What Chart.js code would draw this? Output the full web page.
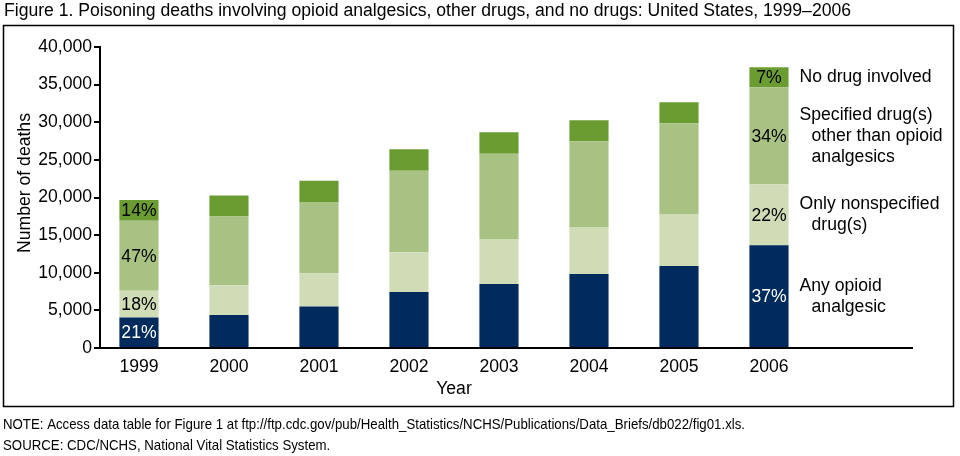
<!DOCTYPE html>
<html>
<head>
<meta charset="utf-8">
<script src="https://cdn.jsdelivr.net/npm/chart.js@4"></script>
<style>
  html, body { margin: 0; padding: 0; background: #fff; }
  canvas { display: block; }
</style>
</head>
<body>
<canvas id="chart" width="960" height="456"></canvas>
<script>
// data (number of deaths)
const years = [1999, 2000, 2001, 2002, 2003, 2004, 2005, 2006];
const opioid = [4050, 4400, 5500, 7450, 8500, 9850, 10900, 13650];
const nonspecified = [3550, 3950, 4430, 5260, 6000, 6220, 6900, 8100];
const specified = [9300, 9120, 9480, 10860, 11300, 11400, 12060, 12900];
const noDrug = [2770, 2790, 2800, 2840, 2860, 2800, 2790, 2650];

// percent labels shown on first and last bar only
const pctOpioid = ["21%", null, null, null, null, null, null, "37%"];
const pctNonspec = ["18%", null, null, null, null, null, null, "22%"];
const pctSpecified = ["47%", null, null, null, null, null, null, "34%"];
const pctNoDrug = ["14%", null, null, null, null, null, null, "7%"];

const seriesNames = [
    ["Any opioid", "  analgesic"],
    ["Only nonspecified", "  drug(s)"],
    ["Specified drug(s)", "  other than opioid", "  analgesics"],
    ["No drug involved"]
];

const yTicks = { min: 0, max: 40000, step: 5000 };

const FONT = "'Liberation Sans', Arial, sans-serif";
const FS = 17.6;

function pts(arr) {
    return arr.map((v, i) => ({ x: years[i], y: v }));
}

const textPlugin = {
    id: "texts",
    afterDatasetsDraw(chart) {
        const ctx = chart.ctx;
        const pcts = [pctOpioid, pctNonspec, pctSpecified, pctNoDrug];
        ctx.save();
        ctx.font = FS + "px " + FONT;
        ctx.textAlign = "center";
        ctx.textBaseline = "middle";
        chart.data.datasets.forEach((ds, di) => {
            const meta = chart.getDatasetMeta(di);
            meta.data.forEach((bar, i) => {
                const t = pcts[di][i];
                if (!t) return;
                ctx.fillStyle = di === 0 ? "#fff" : "#000";
                ctx.fillText(t, bar.x, (bar.y + bar.base) / 2 + 1);
            });
        });
        // labels next to the last bar
        ctx.textAlign = "left";
        ctx.fillStyle = "#000";
        const last = years.length - 1;
        chart.data.datasets.forEach((ds, di) => {
            const bar = chart.getDatasetMeta(di).data[last];
            const lines = seriesNames[di];
            const cy = (bar.y + bar.base) / 2;
            const lh = 21;
            const x0 = bar.x + bar.width / 2 + 11;
            lines.forEach((ln, k) => {
                const y = cy + (k - (lines.length - 1) / 2) * lh;
                const ind = ln.startsWith("  ") ? 12 : 0;
                ctx.fillText(ln.trim(), x0 + ind, y);
            });
        });
        ctx.restore();
    },
    afterDraw(chart) {
        const ctx = chart.ctx;
        ctx.save();
        ctx.fillStyle = "#000";
        ctx.font = FS + "px " + FONT;
        ctx.textBaseline = "middle";
        ctx.textAlign = "left";
        ctx.fillText("Figure 1. Poisoning deaths involving opioid analgesics, other drugs, and no drugs: United States, 1999\u20132006", 4, 11);
        // frame
        ctx.strokeStyle = "#000";
        ctx.lineWidth = 1.5;
        ctx.strokeRect(3.5, 25.5, 950, 381);
        // y title
        ctx.save();
        ctx.translate(25, 183);
        ctx.rotate(-Math.PI / 2);
        ctx.textAlign = "center";
        ctx.fillText("Number of deaths", 0, 0);
        ctx.restore();
        // x title centred under the bars
        const xs = chart.scales.x;
        const cx = (xs.getPixelForValue(years[0]) + xs.getPixelForValue(years[years.length - 1])) / 2;
        ctx.textAlign = "center";
        ctx.fillText("Year", cx, 389);
        // notes, condensed
        ctx.textAlign = "left";
        ctx.font = "14.5px " + FONT;
        const note = "NOTE: Access data table for Figure 1 at ftp://ftp.cdc.gov/pub/Health_Statistics/NCHS/Publications/Data_Briefs/db022/fig01.xls.";
        const sx = Math.min(1, 742 / ctx.measureText(note).width);
        ctx.save();
        ctx.translate(3, 0);
        ctx.scale(sx, 1);
        ctx.fillText(note, 0, 425);
        ctx.fillText("SOURCE: CDC/NCHS, National Vital Statistics System.", 0, 446);
        ctx.restore();
        ctx.restore();
    }
};

new Chart(document.getElementById("chart").getContext("2d"), {
    type: "bar",
    data: {
        datasets: [
            { label: "Any opioid analgesic", data: pts(opioid), backgroundColor: "#002b5c" },
            { label: "Only nonspecified drug(s)", data: pts(nonspecified), backgroundColor: "#cfdcb6" },
            { label: "Specified drug(s) other than opioid analgesics", data: pts(specified), backgroundColor: "#a8c283" },
            { label: "No drug involved", data: pts(noDrug), backgroundColor: "#6b9c32" }
        ]
    },
    options: {
        responsive: false,
        animation: false,
        events: [],
        layout: { padding: { top: 47, right: 48, left: 0, bottom: 0 } },
        barPercentage: 0.435,
        categoryPercentage: 1,
        plugins: { legend: { display: false }, tooltip: { enabled: false } },
        scales: {
            x: {
                type: "linear",
                stacked: true,
                offset: false,
                min: 1998.567,
                max: 2007.589,
                afterFit: s => { s.height = 108; },
                afterBuildTicks: s => {
                    s.ticks = years.map(v => ({ value: v }));
                },
                ticks: {
                    callback: v => String(v),
                    color: "#000",
                    font: { size: FS, family: FONT },
                    padding: 9,
                    maxRotation: 0,
                    autoSkip: false
                },
                grid: { display: false, drawTicks: false, offset: false },
                border: { display: true, color: "#000", width: 2 }
            },
            y: {
                stacked: true,
                min: yTicks.min,
                max: yTicks.max,
                afterFit: s => { s.width = 100; },
                ticks: {
                    stepSize: yTicks.step,
                    color: "#000",
                    font: { size: FS, family: FONT },
                    padding: 2
                },
                grid: { drawOnChartArea: false, drawTicks: true, tickLength: 6, tickColor: "#000", lineWidth: 2 },
                border: { display: true, color: "#000", width: 2 }
            }
        }
    },
    plugins: [textPlugin]
});
</script>
</body>
</html>
